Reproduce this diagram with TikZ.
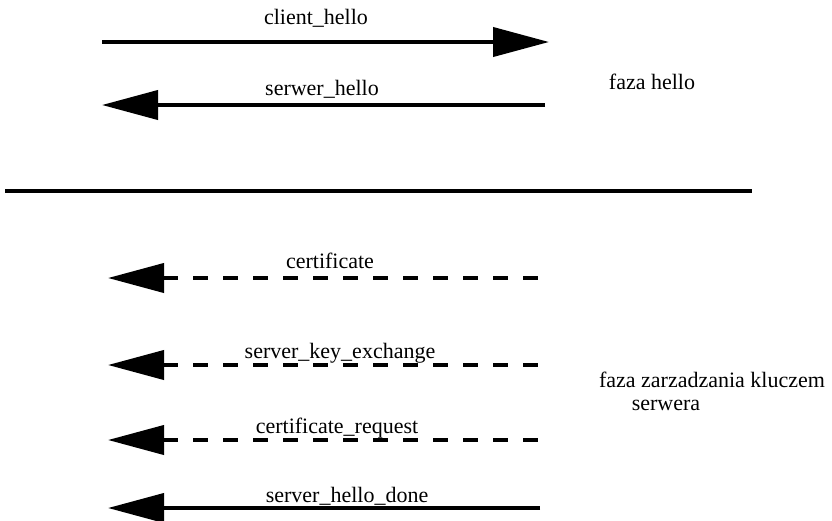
\documentclass[tikz,border=0pt]{standalone}
\usepackage{fontspec}
\setmainfont{Liberation Serif}
\usetikzlibrary{arrows.meta}
\tikzset{
  msg/.style={line width=4pt, -{Triangle[length=56pt,width=29pt]}},
  dmsg/.style={line width=4pt, {Triangle[length=56pt,width=29pt]}-, dash pattern=on 15pt off 15pt},
  lbl/.style={font=\fontsize{22}{25}\selectfont, inner sep=0pt},
}
\begin{document}
\begin{tikzpicture}[x=1pt,y=-1pt]
\useasboundingbox (0,0) rectangle (832,520);
% hello phase
\coordinate (ch1) at (102,42);  \coordinate (ch2) at (549,42);
\coordinate (sh1) at (545,105); \coordinate (sh2) at (102,105);
\draw[msg] (ch1) -- (ch2);
\draw[msg] (sh1) -- (sh2);
\node[lbl] (lch) at (316,18) {client\_hello};
\node[lbl] (lsh) at (322,89) {serwer\_hello};
\node[lbl] (fh) at (652,82) {faza hello};
% separator
\coordinate (s1) at (5,191); \coordinate (s2) at (752,191);
\draw[line width=4pt] (s1) -- (s2);
% key phase
\coordinate (c1) at (540,278); \coordinate (c2) at (108,278);
\coordinate (k1) at (540,365); \coordinate (k2) at (108,365);
\coordinate (r1) at (540,440); \coordinate (r2) at (108,440);
\coordinate (d1) at (540,508); \coordinate (d2) at (108,508);
\draw[dmsg] (c2) -- (c1);
\draw[dmsg] (k2) -- (k1);
\draw[dmsg] (r2) -- (r1);
\draw[msg] (d1) -- (d2);
\node[lbl] (lc) at (330,261) {certificate};
\node[lbl] (lk) at (340,353) {server\_key\_exchange};
\node[lbl] (lr) at (337,428) {certificate\_request};
\node[lbl] (ld) at (347,496) {server\_hello\_done};
\node[lbl] (fk1) at (712,380) {faza zarzadzania kluczem};
\node[lbl] (fk2) at (666,405) {serwera};
\end{tikzpicture}
\end{document}
